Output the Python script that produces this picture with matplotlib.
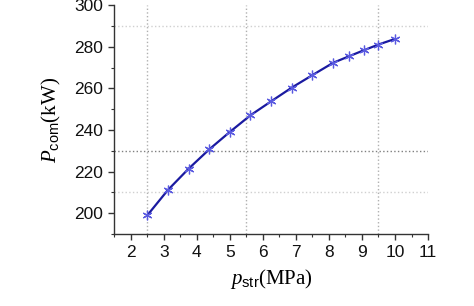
import numpy as np
import matplotlib.pyplot as plt

plt.rcParams['mathtext.fontset'] = 'custom'
plt.rcParams['mathtext.it'] = 'Liberation Serif:italic'
plt.rcParams['mathtext.rm'] = 'Liberation Sans'

# data
p_str = [2.5, 3.125, 3.75, 4.375, 5.0, 5.625, 6.25, 6.875, 7.5, 8.125, 8.6, 9.05, 9.5, 10.0]
P_com = [199.0, 211.2, 221.4, 230.7, 239.1, 247.1, 253.8, 260.4, 266.4, 272.3, 275.4, 278.3, 281.1, 283.8]

vlines = [2.5, 5.5, 9.5]
hlines_light = [210, 290]
hline_dark = 230
xticks = [2, 3, 4, 5, 6, 7, 8, 9, 10, 11]
yticks = [200, 220, 240, 260, 280, 300]

fig = plt.figure(figsize=(4.74, 3.06), dpi=100)
ax = fig.add_axes([0.241, 0.235, 0.662, 0.748])

for xv in vlines:
    ax.axvline(xv, color='#b0b0b0', ls=':', lw=1.0, zorder=1)
for yv in hlines_light:
    ax.axhline(yv, color='#d0d0d0', ls=':', lw=1.0, zorder=1)
ax.axhline(hline_dark, color='#808080', ls=':', lw=1.0, zorder=1)

ax.plot(p_str, P_com, color='#1a1aa0', lw=1.6, zorder=2)
ax.plot(p_str, P_com, ls='none', marker=(6, 2, 0), ms=7, mew=0.9,
        color='#5a5ae0', zorder=3)

ax.set_xlim(1.5, 11)
ax.set_ylim(190, 300)
ax.set_xticks(xticks)
ax.set_yticks(yticks)
ax.set_xticks(np.arange(1.5, 11.01, 0.5), minor=True)
ax.set_yticks(np.arange(190, 301, 10), minor=True)

for s in ['top', 'right']:
    ax.spines[s].set_visible(False)
for s in ['left', 'bottom']:
    ax.spines[s].set_color('#333333')
    ax.spines[s].set_linewidth(1.0)

ax.tick_params(which='major', direction='out', length=4, width=1.0, color='#333333',
               labelsize=12.5, labelcolor='#111111', pad=4)
ax.tick_params(which='minor', direction='out', length=2, width=0.8, color='#333333')
for lab in ax.get_xticklabels() + ax.get_yticklabels():
    lab.set_family('Liberation Sans')

ax.set_xlabel(r'$p_{\mathrm{str}}$(MPa)', family='Liberation Serif', fontsize=15, labelpad=5)
ax.set_ylabel(r'$P_{\mathrm{com}}$(kW)', family='Liberation Serif', fontsize=15, labelpad=8)

fig.savefig('out.png', dpi=100)
